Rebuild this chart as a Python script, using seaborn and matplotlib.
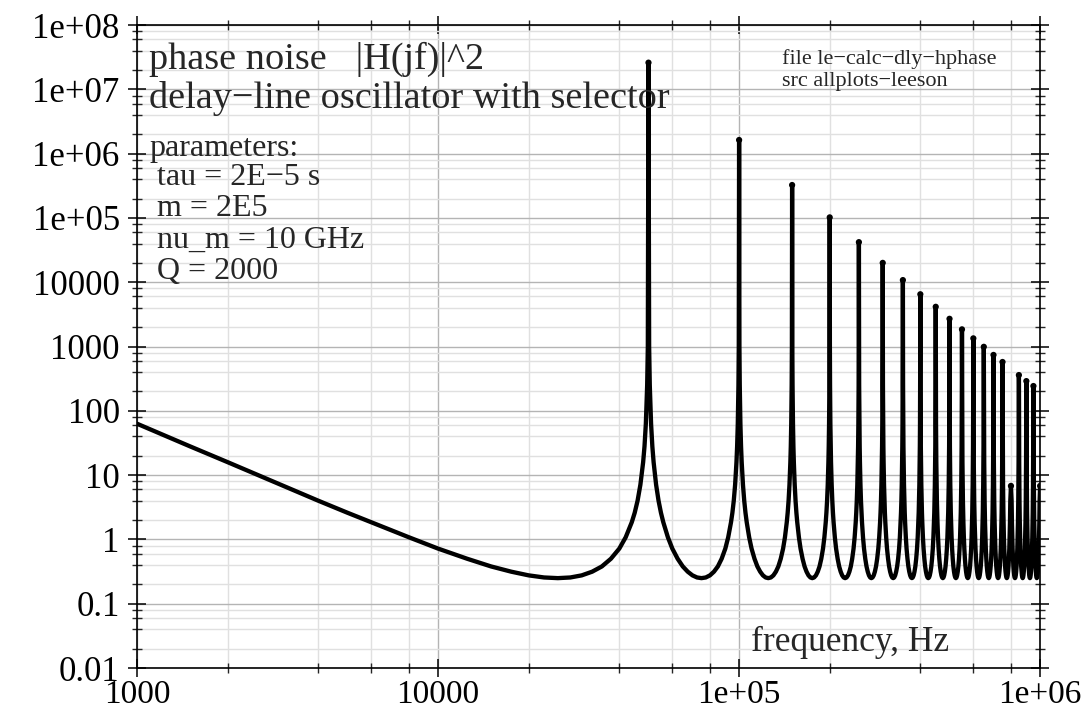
import numpy as np
import pandas as pd
import matplotlib
matplotlib.use("Agg")
import matplotlib.pyplot as plt
import matplotlib.ticker as mticker
import seaborn as sns

# one lobe of |H(jf)|^2: offset from a resonance (Hz) -> value
lobe_offset = [250, 500, 1000, 1500, 2000, 3000, 4000, 5000, 6000, 8000,
               10000, 12500, 15000, 17500, 20000, 22500, 25000]
lobe_value = [1000, 250, 63, 28, 15.9, 7.1, 4.0, 2.6, 1.85, 1.08,
              0.72, 0.5, 0.38, 0.315, 0.276, 0.256, 0.25]

# resonances every 1/tau = 50 kHz, tip heights as drawn
peak_freq = [50000, 100000, 150000, 200000, 250000, 300000, 350000, 400000,
             450000, 500000, 550000, 600000, 650000, 700000, 750000, 800000,
             850000, 900000, 950000, 1000000]
peak_value = [2.6e7, 1.63e6, 3.25e5, 1.02e5, 4.2e4, 2.0e4, 1.08e4, 6500,
              4150, 2700, 1850, 1340, 990, 740, 575, 6.8,
              360, 290, 243, 6.8]

xtick_values = [1e3, 1e4, 1e5, 1e6]
xtick_labels = ["1000", "10000", "1e+05", "1e+06"]
ytick_values = [1e-2, 1e-1, 1, 10, 100, 1e3, 1e4, 1e5, 1e6, 1e7, 1e8]
ytick_labels = ["0.01", "0.1", "1", "10", "100", "1000", "10000",
                "1e+05", "1e+06", "1e+07", "1e+08"]

# assemble the sampled curve from the lobe profile and the peak tips
rows = [(off, val) for off, val in zip(lobe_offset, lobe_value) if off >= 1000]
for i, (fc, pv) in enumerate(zip(peak_freq, peak_value)):
    for off, val in reversed(list(zip(lobe_offset, lobe_value))):
        if off < 25000 and val < pv:
            rows.append((fc - off, val))
    rows.append((fc, pv))
    if i < len(peak_freq) - 1:
        for off, val in zip(lobe_offset, lobe_value):
            if val < pv:
                rows.append((fc + off, val))
df = pd.DataFrame(rows, columns=["freq", "h2"])
peaks = pd.DataFrame({"freq": peak_freq, "h2": peak_value})

sns.set_style("ticks")
plt.rcParams["font.family"] = ["Liberation Serif", "DejaVu Serif"]

fig = plt.figure(figsize=(10.92, 7.15), dpi=100)
ax = fig.add_axes([0.1255, 0.0657, 0.8270, 0.8993])

sns.lineplot(data=df, x="freq", y="h2", color="black", linewidth=3.1,
             estimator=None, sort=False, ax=ax,
             solid_joinstyle="round", solid_capstyle="round")
sns.scatterplot(data=peaks, x="freq", y="h2", color="black", s=20,
                edgecolor="none", ax=ax, zorder=4)

ax.set_xscale("log")
ax.set_yscale("log")
ax.set_xlim(1e3, 1e6)
ax.set_ylim(1e-2, 1e8)
ax.xaxis.set_major_locator(mticker.FixedLocator(xtick_values))
ax.xaxis.set_major_formatter(mticker.FixedFormatter(xtick_labels))
ax.yaxis.set_major_locator(mticker.FixedLocator(ytick_values))
ax.yaxis.set_major_formatter(mticker.FixedFormatter(ytick_labels))
ax.xaxis.set_minor_locator(mticker.LogLocator(base=10, subs=[2, 4, 6, 8], numticks=20))
ax.yaxis.set_minor_locator(mticker.LogLocator(base=10, subs=[2, 4, 6, 8], numticks=30))
ax.xaxis.set_minor_formatter(mticker.NullFormatter())
ax.yaxis.set_minor_formatter(mticker.NullFormatter())

ax.grid(which="major", color="#b4b4b4", linewidth=1.0)
ax.grid(which="minor", color="#e0e0e0", linewidth=1.0)
ax.set_axisbelow(True)

for s in ax.spines.values():
    s.set_linewidth(1.2)
    s.set_color("black")
ax.tick_params(which="major", direction="inout", length=13, width=1.1,
               top=True, right=True, labelsize=25, pad=6, colors="black")
ax.tick_params(axis="x", which="major", labelsize=24, pad=1.5)
ax.tick_params(which="minor", direction="inout", length=7, width=1.0,
               top=True, right=True)
ax.set_xlabel("")
ax.set_ylabel("")

def px(x, y):
    return x / 1092, 1 - y / 715

fig.text(*px(149, 69), "phase noise   |H(jf)|^2", fontsize=27.5, va="baseline")
fig.text(*px(149, 108), "delay\u2212line oscillator with selector", fontsize=27.5, va="baseline")
fig.text(*px(149, 156), "parameters:", fontsize=23, va="baseline")
params = ["tau = 2E\u22125 s", "m = 2E5", "nu_m = 10 GHz", "Q = 2000"]
for k, t in enumerate(params):
    fig.text(*px(157, 185 + 31.5 * k), t, fontsize=23, va="baseline")
fig.text(*px(782, 64), "file le\u2212calc\u2212dly\u2212hphase", fontsize=16, va="baseline")
fig.text(*px(782, 86), "src allplots\u2212leeson", fontsize=16, va="baseline")
fig.text(*px(751, 651), "frequency, Hz", fontsize=25.5, va="baseline")

fig.savefig("out.png", dpi=100)
plt.close(fig)
